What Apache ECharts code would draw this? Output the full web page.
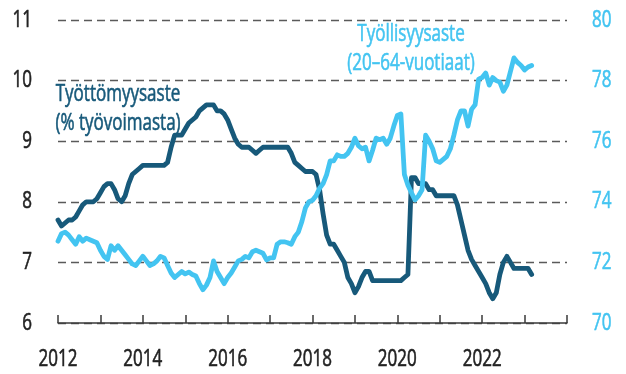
<!DOCTYPE html>
<html>
<head>
<meta charset="utf-8">
<script src="https://cdn.jsdelivr.net/npm/echarts@6/dist/echarts.min.js"></script>
<style>
  html, body { margin: 0; padding: 0; background: #ffffff; }
  #chart { width: 626px; height: 374px; }
</style>
</head>
<body>
<div id="chart"></div>
<script>
// Monthly series, January 2012 onwards (one array per calendar year)
const startYear = 2012;

// Unemployment rate, % of labour force (trend), left axis
const unemployment2012 = [7.7, 7.6, 7.65, 7.7, 7.7, 7.75, 7.85, 7.95, 8.0, 8.0, 8.0, 8.05];
const unemployment2013 = [8.15, 8.25, 8.3, 8.3, 8.2, 8.05, 8.0, 8.1, 8.3, 8.45, 8.5, 8.55];
const unemployment2014 = [8.6, 8.6, 8.6, 8.6, 8.6, 8.6, 8.6, 8.65, 8.9, 9.1, 9.1, 9.1];
const unemployment2015 = [9.2, 9.3, 9.35, 9.4, 9.5, 9.55, 9.6, 9.6, 9.6, 9.5, 9.5, 9.45];
const unemployment2016 = [9.35, 9.2, 9.05, 8.95, 8.9, 8.9, 8.9, 8.85, 8.8, 8.85, 8.9, 8.9];
const unemployment2017 = [8.9, 8.9, 8.9, 8.9, 8.9, 8.9, 8.8, 8.65, 8.6, 8.55, 8.5, 8.5];
const unemployment2018 = [8.5, 8.45, 8.2, 7.8, 7.45, 7.3, 7.3, 7.2, 7.1, 7.0, 6.75, 6.65];
const unemployment2019 = [6.5, 6.6, 6.75, 6.85, 6.85, 6.7, 6.7, 6.7, 6.7, 6.7, 6.7, 6.7];
const unemployment2020 = [6.7, 6.7, 6.75, 6.8, 8.4, 8.4, 8.3, 8.3, 8.3, 8.2, 8.2, 8.1];
const unemployment2021 = [8.1, 8.1, 8.1, 8.1, 8.1, 7.95, 7.7, 7.45, 7.2, 7.05, 6.95, 6.85];
const unemployment2022 = [6.75, 6.65, 6.5, 6.4, 6.5, 6.8, 7.0, 7.1, 7.0, 6.9, 6.9, 6.9];
const unemployment2023 = [6.9, 6.9, 6.8];

// Employment rate, 20–64-year-olds (trend), right axis
const employment2012 = [72.7, 72.95, 73.0, 72.9, 72.75, 72.6, 72.85, 72.7, 72.8, 72.75, 72.7, 72.65];
const employment2013 = [72.4, 72.2, 72.1, 72.55, 72.4, 72.55, 72.4, 72.25, 72.1, 71.95, 71.9, 72.05];
const employment2014 = [72.2, 72.05, 71.9, 71.95, 72.05, 72.2, 72.15, 71.9, 71.65, 71.5, 71.6, 71.7];
const employment2015 = [71.62, 71.68, 71.6, 71.55, 71.3, 71.1, 71.25, 71.5, 72.05, 71.7, 71.5, 71.3];
const employment2016 = [71.5, 71.65, 71.85, 72.05, 72.1, 72.2, 72.15, 72.35, 72.4, 72.35, 72.3, 72.08];
const employment2017 = [72.15, 72.15, 72.6, 72.68, 72.68, 72.65, 72.6, 72.85, 73.0, 73.35, 73.8, 74.0];
const employment2018 = [74.05, 74.2, 74.45, 74.6, 74.9, 75.35, 75.35, 75.55, 75.5, 75.5, 75.6, 75.8];
const employment2019 = [76.1, 75.85, 75.75, 75.8, 75.35, 75.7, 76.1, 76.05, 76.1, 75.9, 76.1, 76.5];
const employment2020 = [76.85, 76.9, 74.9, 74.55, 74.3, 74.06, 74.2, 74.4, 76.2, 76.0, 75.75, 75.35];
const employment2021 = [75.3, 75.4, 75.5, 75.75, 76.2, 76.7, 77.0, 77.0, 76.5, 77.05, 77.2, 78.05];
const employment2022 = [78.1, 78.25, 77.85, 78.1, 78.0, 77.95, 77.65, 77.85, 78.3, 78.75, 78.6, 78.5];
const employment2023 = [78.35, 78.45, 78.5];

// Axis ticks
const leftTicks = [6, 7, 8, 9, 10, 11];
const rightTicks = [70, 72, 74, 76, 78, 80];
const yearLabels = [2012, 2014, 2016, 2018, 2020, 2022];

// Series captions
const unemploymentCaption = 'Työttömyysaste\n(% työvoimasta)';
const employmentCaption = 'Työllisyysaste\n(20–64-vuotiaat)';

const unemployment = [].concat(unemployment2012, unemployment2013, unemployment2014,
  unemployment2015, unemployment2016, unemployment2017, unemployment2018,
  unemployment2019, unemployment2020, unemployment2021, unemployment2022, unemployment2023);
const employment = [].concat(employment2012, employment2013, employment2014,
  employment2015, employment2016, employment2017, employment2018,
  employment2019, employment2020, employment2021, employment2022, employment2023);

// Month i is placed at fractional year startYear + i/12
const toPoints = arr => arr.map((v, i) => [startYear + i / 12, v]);

const DARK = '#17597a';
const LIGHT = '#43c4f1';
const TEXT = '#222222';
// Humanist sans, squeezed horizontally to a condensed look
const FONT = '23px "Open Sans", "Noto Sans", sans-serif';
const SQUEEZE = 0.74;

const chart = echarts.init(document.getElementById('chart'), null, { renderer: 'canvas' });

chart.setOption({
  backgroundColor: '#ffffff',
  animation: false,
  grid: { left: 58, right: 59, top: 20, bottom: 51 },
  xAxis: {
    type: 'value',
    min: 2012,
    max: 2024,
    interval: 1,
    axisLine: { show: true, lineStyle: { color: '#3a3a3a', width: 1.5 } },
    axisTick: { show: true, inside: true, length: 8, lineStyle: { color: '#3a3a3a', width: 1.5 } },
    splitLine: { show: false },
    axisLabel: { show: false }
  },
  yAxis: [
    {
      type: 'value',
      position: 'left',
      min: leftTicks[0],
      max: leftTicks[leftTicks.length - 1],
      interval: 1,
      axisLine: { show: false },
      axisTick: { show: false },
      splitLine: { show: true, lineStyle: { color: '#5a5a5a', width: 1.3, type: [8, 5] } },
      axisLabel: { show: false }
    },
    {
      type: 'value',
      position: 'right',
      min: rightTicks[0],
      max: rightTicks[rightTicks.length - 1],
      interval: 2,
      axisLine: { show: false },
      axisTick: { show: false },
      splitLine: { show: false },
      axisLabel: { show: false }
    }
  ],
  series: [
    {
      name: 'Työttömyysaste',
      type: 'line',
      yAxisIndex: 0,
      data: toPoints(unemployment),
      showSymbol: false,
      lineStyle: { color: DARK, width: 4.8, join: 'round', cap: 'round' },
      z: 3
    },
    {
      name: 'Työllisyysaste',
      type: 'line',
      yAxisIndex: 1,
      data: toPoints(employment),
      showSymbol: false,
      lineStyle: { color: LIGHT, width: 4.8, join: 'round', cap: 'round' },
      z: 4
    }
  ]
});

// Tick labels and captions as condensed text, placed through the axes' own scales
function label(text, x, y, align, color, lineHeight) {
  return {
    type: 'text',
    x: x,
    y: y,
    scaleX: SQUEEZE,
    silent: true,
    z: 10,
    style: {
      text: text,
      font: FONT,
      fill: color,
      stroke: color,
      lineWidth: 0.6,
      textAlign: align,
      textVerticalAlign: 'middle',
      lineHeight: lineHeight || 28
    }
  };
}

const gridLeft = chart.convertToPixel({ xAxisIndex: 0 }, 2012);
const gridRight = chart.convertToPixel({ xAxisIndex: 0 }, 2024);
const gridBottom = chart.convertToPixel({ yAxisIndex: 0 }, leftTicks[0]);

const labels = [];
leftTicks.forEach(v => {
  labels.push(label(String(v), gridLeft - 26, chart.convertToPixel({ yAxisIndex: 0 }, v), 'right', TEXT));
});
rightTicks.forEach(v => {
  labels.push(label(String(v), gridRight + 25, chart.convertToPixel({ yAxisIndex: 1 }, v), 'left', LIGHT));
});
yearLabels.forEach(yr => {
  labels.push(label(String(yr), chart.convertToPixel({ xAxisIndex: 0 }, yr), gridBottom + 36, 'center', TEXT));
});

// Series captions
labels.push(label(unemploymentCaption, 118, 109, 'center', DARK, 29));
labels.push(label(employmentCaption, 411, 49, 'center', LIGHT, 29));

chart.setOption({ graphic: labels });
</script>
</body>
</html>
